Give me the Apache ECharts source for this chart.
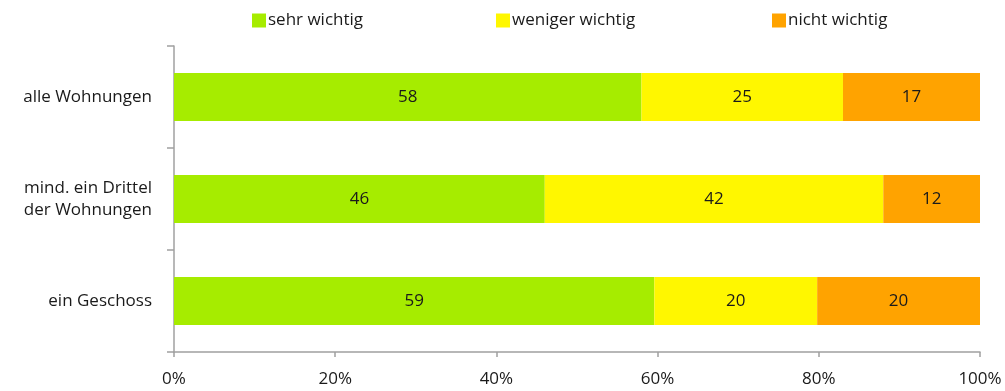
<!DOCTYPE html>
<html><head><meta charset="utf-8">
<script src="https://cdn.jsdelivr.net/npm/echarts@6/dist/echarts.min.js"></script>
<style>html,body{margin:0;padding:0;background:#fff}#c{width:1005px;height:391px}</style>
</head><body><div id="c"></div>
<script>
const categories = ['alle Wohnungen', 'mind. ein Drittel\nder Wohnungen', 'ein Geschoss'];
const seriesNames = ['sehr wichtig', 'weniger wichtig', 'nicht wichtig'];
const sehrWichtig = [58, 46, 59];
const wenigerWichtig = [25, 42, 20];
const nichtWichtig = [17, 12, 20];
const xTickLabels = ['0%', '20%', '40%', '60%', '80%', '100%'];
const colors = ['#a6ec00', '#fff700', '#ffa300'];

const raw = [sehrWichtig, wenigerWichtig, nichtWichtig];
const totals = categories.map((_, i) => raw.reduce((s, arr) => s + arr[i], 0));
const font = '"Open Sans", "Noto Sans", sans-serif';
const textColor = '#1a1a1a';
const axisColor = '#a0a0a0';
const legendLeft = [247, 491, 767];

const chart = echarts.init(document.getElementById('c'), null, {renderer: 'canvas'});
chart.setOption({
  animation: false,
  grid: {left: 174, right: 25, top: 46, bottom: 39, containLabel: false},
  legend: seriesNames.map((n, i) => ({
    data: [n], left: legendLeft[i], top: 7, itemWidth: 14, itemHeight: 14, itemGap: 0,
    icon: 'rect', textStyle: {fontFamily: font, fontSize: 17, color: textColor, padding: [0, 0, 0, -3]}
  })),
  xAxis: {
    type: 'value', min: 0, max: 100, interval: 20,
    axisLine: {show: true, lineStyle: {color: axisColor, width: 1.5}},
    axisTick: {show: true, length: 5, lineStyle: {color: axisColor, width: 1.5}},
    splitLine: {show: false},
    axisLabel: {fontFamily: font, fontSize: 17, color: textColor, margin: 19,
      formatter: v => xTickLabels[Math.round(v / 20)]}
  },
  yAxis: {
    type: 'category', data: categories, inverse: true,
    axisLine: {show: true, lineStyle: {color: axisColor, width: 1.5}},
    axisTick: {show: true, length: 7, lineStyle: {color: axisColor, width: 1.5}},
    axisLabel: {fontFamily: font, fontSize: 17, color: textColor, margin: 22, lineHeight: 22, align: 'right'}
  },
  series: raw.map((arr, si) => ({
    name: seriesNames[si], type: 'bar', stack: 'total', barWidth: '47%',
    itemStyle: {color: colors[si]},
    data: arr.map((v, i) => ({value: v / totals[i] * 100, raw: v})),
    label: {show: true, position: 'inside', fontFamily: font, fontSize: 17, color: textColor,
      formatter: p => String(p.data.raw)}
  }))
});
</script></body></html>
